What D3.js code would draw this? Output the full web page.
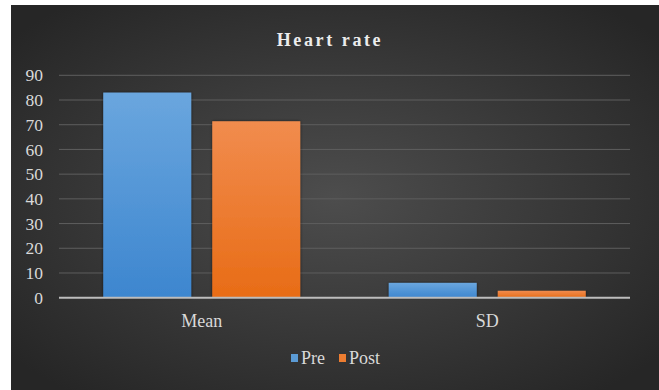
<!DOCTYPE html>
<html>
<head>
<meta charset="utf-8">
<script src="https://cdn.jsdelivr.net/npm/d3@7"></script>
<style>
  html, body { margin: 0; padding: 0; background: #ffffff; }
  svg { display: block; font-family: "Liberation Serif", "Times New Roman", serif; }
</style>
</head>
<body>
<script>
// Heart rate: mean and SD, before and after
const categories = ["Mean", "SD"];
const seriesNames = ["Pre", "Post"];
const preValues = [83.0, 6.0];
const postValues = [71.4, 2.8];
const yTicks = [0, 10, 20, 30, 40, 50, 60, 70, 80, 90];
const titleText = "Heart rate";

const W = 659, H = 390;
const svg = d3.select("body").append("svg").attr("width", W).attr("height", H);
const defs = svg.append("defs");

// panel background: soft radial light in the middle, darker edges
const bg = defs.append("radialGradient").attr("id", "bgGrad")
  .attr("cx", "50%").attr("cy", "50%").attr("r", "65%");
bg.append("stop").attr("offset", "0%").attr("stop-color", "#4d4d4d");
bg.append("stop").attr("offset", "100%").attr("stop-color", "#262626");

const gradBlue = defs.append("linearGradient").attr("id", "gBlue")
  .attr("x1", 0).attr("y1", 0).attr("x2", 0).attr("y2", 1);
gradBlue.append("stop").attr("offset", "0%").attr("stop-color", "#6aa6de");
gradBlue.append("stop").attr("offset", "100%").attr("stop-color", "#3d86cf");
const gradOrange = defs.append("linearGradient").attr("id", "gOrange")
  .attr("x1", 0).attr("y1", 0).attr("x2", 0).attr("y2", 1);
gradOrange.append("stop").attr("offset", "0%").attr("stop-color", "#f18c4e");
gradOrange.append("stop").attr("offset", "100%").attr("stop-color", "#e86c16");

const shadow = defs.append("filter").attr("id", "shadow")
  .attr("x", "-10%").attr("y", "-10%").attr("width", "120%").attr("height", "120%");
shadow.append("feDropShadow").attr("dx", 0).attr("dy", 0).attr("stdDeviation", 1.5)
  .attr("flood-color", "#000").attr("flood-opacity", 0.6);

svg.append("rect").attr("x", 11).attr("y", 5).attr("width", W - 11).attr("height", H - 5)
  .attr("fill", "url(#bgGrad)");

const margin = { left: 59, right: 29, top: 75.3, bottom: 92.3 };
const x0 = d3.scaleBand().domain(categories)
  .range([margin.left, W - margin.right]).paddingInner(0.31).paddingOuter(0.155);
const x1 = d3.scaleBand().domain(seriesNames).range([0, x0.bandwidth()]).paddingInner(0.193);
const y = d3.scaleLinear().domain([0, 90]).range([H - margin.bottom, margin.top]);

const fontFam = "Liberation Serif";

// gridlines
svg.append("g").selectAll("line").data(yTicks.filter(d => d > 0)).join("line")
  .attr("x1", margin.left).attr("x2", W - margin.right)
  .attr("y1", d => y(d)).attr("y2", d => y(d))
  .attr("stroke", "#5e5e5e").attr("stroke-width", 1);

// y axis labels
const yAxis = d3.axisLeft(y).tickValues(yTicks).tickSize(0).tickPadding(16);
const gy = svg.append("g").attr("transform", `translate(${margin.left},0)`).call(yAxis)
  .attr("font-family", fontFam).attr("font-size", 17.5);
gy.select(".domain").remove();
gy.selectAll("text").attr("fill", "#d9d9d9");

// bars
const colorFill = { Pre: "url(#gBlue)", Post: "url(#gOrange)" };
const rows = categories.map((c, i) => ({ cat: c, vals: [
  { s: "Pre", v: preValues[i] }, { s: "Post", v: postValues[i] } ] }));
const groups = svg.append("g").selectAll("g").data(rows).join("g")
  .attr("transform", d => `translate(${x0(d.cat)},0)`);
groups.selectAll("rect").data(d => d.vals).join("rect")
  .attr("x", d => x1(d.s)).attr("width", x1.bandwidth())
  .attr("y", d => y(d.v)).attr("height", d => y(0) - y(d.v))
  .attr("fill", d => colorFill[d.s]).attr("filter", "url(#shadow)");

// baseline
svg.append("line").attr("x1", margin.left).attr("x2", W - margin.right)
  .attr("y1", y(0)).attr("y2", y(0)).attr("stroke", "#bdbdbd").attr("stroke-width", 2);

// category labels
const xAxis = d3.axisBottom(x0).tickSize(0).tickPadding(17);
const gx = svg.append("g").attr("transform", `translate(0,${y(0)})`).call(xAxis)
  .attr("font-family", fontFam).attr("font-size", 18);
gx.select(".domain").remove();
gx.selectAll("text").attr("fill", "#d9d9d9");

// title
svg.append("text").attr("x", 330).attr("y", 46).attr("text-anchor", "middle")
  .attr("fill", "#ececec").attr("font-family", fontFam).attr("font-size", 18)
  .attr("font-weight", "bold").attr("letter-spacing", "2.6px").text(titleText);

// legend
const legendColors = { Pre: "#5b9bd5", Post: "#ed7d31" };
const legendX = [291, 339];
const lg = svg.append("g").selectAll("g").data(seriesNames).join("g")
  .attr("transform", (d, i) => `translate(${legendX[i]},358)`);
lg.append("rect").attr("x", 0).attr("y", -4).attr("width", 7).attr("height", 8)
  .attr("fill", d => legendColors[d]);
lg.append("text").attr("x", 10).attr("y", 5.5).attr("fill", "#d9d9d9")
  .attr("font-family", fontFam).attr("font-size", 18).text(d => d);
</script>
</body>
</html>
